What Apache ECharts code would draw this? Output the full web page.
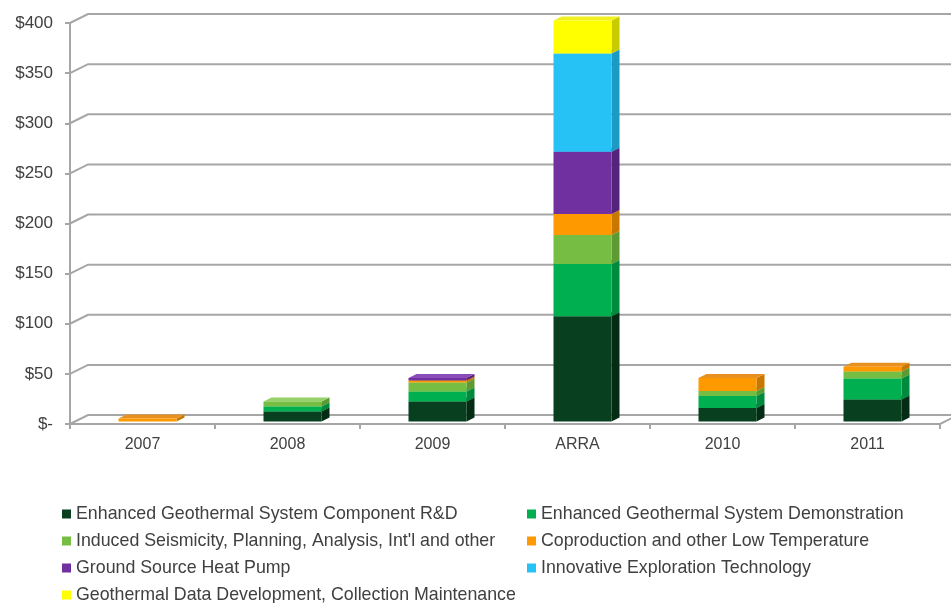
<!DOCTYPE html>
<html>
<head>
<meta charset="utf-8">
<script src="https://cdn.jsdelivr.net/npm/echarts@6/dist/echarts.min.js"></script>
<style>html,body{margin:0;padding:0;background:#fff;}#chart{width:951px;height:603px;}</style>
</head>
<body>
<div id="chart"></div>
<script>
const categories = ['2007', '2008', '2009', 'ARRA', '2010', '2011'];
const seriesNames = [
  'Enhanced Geothermal System Component R&D',
  'Enhanced Geothermal System Demonstration',
  'Induced Seismicity, Planning, Analysis, Int\'l and other',
  'Coproduction and other Low Temperature',
  'Ground Source Heat Pump',
  'Innovative Exploration Technology',
  'Geothermal Data Development, Collection Maintenance'
];
const egsComponentRD = [0, 10, 20, 105, 13.5, 22];
const egsDemonstration = [0, 5, 10, 52, 12, 21];
const inducedSeismicity = [0, 5, 9, 29, 5, 7];
const coproduction = [3, 0, 2, 21, 13, 4.5];
const groundSourceHeatPump = [0, 0, 2.5, 62, 0, 0];
const innovativeExploration = [0, 0, 0, 98, 0, 0];
const dataDevelopment = [0, 0, 0, 33, 0, 0];
const yTicks = [0, 50, 100, 150, 200, 250, 300, 350, 400];

const allValues = [egsComponentRD, egsDemonstration, inducedSeismicity, coproduction,
  groundSourceHeatPump, innovativeExploration, dataDevelopment];
const colors = ['#073f1f', '#00b050', '#76be43', '#ff9900', '#7030a0', '#26c2f5', '#ffff00'];
const sideColors = ['#042c15', '#008a3e', '#5d9a33', '#c87800', '#55237c', '#1a9ac4', '#caca00'];
const topColors = ['#0e5a2e', '#3cc878', '#95d069', '#e89020', '#8a4cb8', '#66d4f8', '#f0f020'];

const DX = 18, DY = 9;            // depth of the 3D box
const BOX = 8, BOY = 4;           // depth of each bar
const OFFX = 5, OFFY = 2.5;       // bar position inside depth

const base = categories.map(() => 0);
const barSeries = allValues.map((vals, si) => {
  const data = vals.map((v, ci) => {
    const b = base[ci];
    base[ci] += v;
    return [ci, b, b + v];
  });
  return {
    name: seriesNames[si],
    type: 'custom',
    itemStyle: { color: colors[si] },
    encode: { x: 0, y: [1, 2] },
    z: 10 + si,
    data: data,
    renderItem: function (params, api) {
      const ci = api.value(0), b = api.value(1), t = api.value(2);
      if (t - b <= 0) return null;
      const p0 = api.coord([ci, b]);
      const p1 = api.coord([ci, t]);
      const bw = api.size([1, 0])[0] * 0.4;
      const x0 = p0[0] - bw / 2 + OFFX, x1 = x0 + bw;
      const yb = p0[1] - OFFY, yt = p1[1] - OFFY;
      return {
        type: 'group',
        children: [
          { type: 'polygon', shape: { points: [[x1, yb], [x1 + BOX, yb - BOY], [x1 + BOX, yt - BOY], [x1, yt]] },
            style: { fill: sideColors[si] } },
          { type: 'polygon', shape: { points: [[x0, yt], [x0 + BOX, yt - BOY], [x1 + BOX, yt - BOY], [x1, yt]] },
            style: { fill: topColors[si] } },
          { type: 'rect', shape: { x: x0, y: yt, width: bw, height: yb - yt },
            style: { fill: colors[si] } }
        ]
      };
    }
  };
});

const frameSeries = {
  name: 'frame',
  type: 'custom',
  silent: true,
  z: 1,
  encode: { x: 0, y: 1 },
  data: yTicks.map(v => [0, v]),
  renderItem: function (params, api) {
    const cs = params.coordSys;
    const y = api.coord([0, api.value(1)])[1];
    const xl = cs.x, xr = cs.x + cs.width;
    const children = [{
      type: 'polyline',
      shape: { points: [[xl, y], [xl + DX, y - DY], [xr + DX, y - DY]] },
      style: { stroke: '#a6a6a6', lineWidth: 2, fill: null }
    }];
    if (api.value(1) === 0) {
      children.push({
        type: 'line',
        shape: { x1: xr, y1: y, x2: xr + DX, y2: y - DY },
        style: { stroke: '#a6a6a6', lineWidth: 2 }
      });
    }
    return { type: 'group', children: children };
  }
};

const legendText = { color: '#404040', fontSize: 17.8, lineHeight: 16, fontFamily: 'Liberation Sans, Arial, sans-serif' };
const legendBase = {
  orient: 'vertical', icon: 'rect', padding: 0, height: 110,
  itemWidth: 9, itemHeight: 9, itemGap: 9, itemStyle: { borderWidth: 0 },
  textStyle: legendText, selectedMode: false
};
const option = {
  animation: false,
  backgroundColor: '#ffffff',
  textStyle: { fontFamily: 'Liberation Sans, Arial, sans-serif' },
  grid: { left: 70, right: 11, top: 23, bottom: 179 },
  xAxis: {
    type: 'category',
    data: categories,
    axisLine: { lineStyle: { color: '#a6a6a6', width: 2 } },
    axisTick: { show: true, length: 5, lineStyle: { color: '#a6a6a6', width: 2 } },
    axisLabel: { color: '#404040', fontSize: 16, margin: 13 }
  },
  yAxis: {
    type: 'value',
    min: 0, max: 400, interval: 50,
    axisLine: { show: true, lineStyle: { color: '#a6a6a6', width: 2 } },
    axisTick: { show: true, length: 5, lineStyle: { color: '#a6a6a6', width: 2 } },
    splitLine: { show: false },
    axisLabel: {
      color: '#404040', fontSize: 17, margin: 17,
      formatter: v => v === 0 ? '$-' : '$' + v
    }
  },
  legend: [
    Object.assign({}, legendBase, {
      left: 62, top: 505,
      data: [seriesNames[0], seriesNames[2], seriesNames[4], seriesNames[6]]
    }),
    Object.assign({}, legendBase, {
      left: 527, top: 505,
      data: [seriesNames[1], seriesNames[3], seriesNames[5]]
    })
  ],
  series: [frameSeries].concat(barSeries)
};
const chart = echarts.init(document.getElementById('chart'), null, { renderer: 'canvas' });
chart.setOption(option);
</script>
</body>
</html>
